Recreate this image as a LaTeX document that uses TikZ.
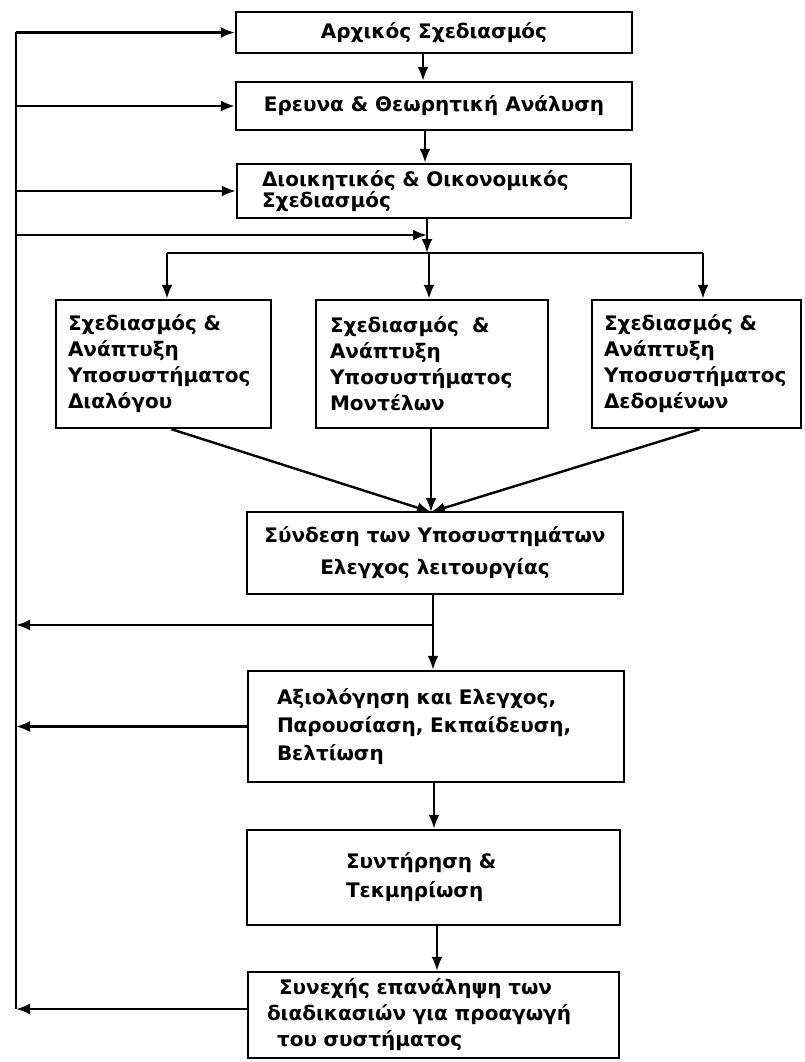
\documentclass[tikz,border=0pt]{standalone}
\usepackage{fontspec}
\setmainfont{DejaVu Sans}
\usetikzlibrary{arrows.meta}
\begin{document}
\begin{tikzpicture}[x=1pt,y=-1pt,
  box/.style={draw, line width=2.4pt, inner ysep=0pt, font=\fontsize{20}{24}\selectfont\bfseries},
  arr/.style={line width=2.4pt, -{Latex[length=14pt,width=11pt]}},
  ln/.style={line width=2.4pt}]
\useasboundingbox (0,0) rectangle (804,1062);
% top boxes
\node[box, minimum width=396pt, minimum height=41pt, align=center] (b1) at (434,32.5) {Αρχικός Σχεδιασμός};
\node[box, minimum width=396pt, minimum height=48pt, align=center] (b2) at (434,106) {Ερευνα \& Θεωρητική Ανάλυση};
\node[box, minimum height=54pt, inner xsep=25pt, text width=344pt, align=left,
      font=\fontsize{20}{20}\selectfont\bfseries] (b3) at (434,191) {Διοικητικός \& Οικονομικός\\Σχεδιασμός};
% sub boxes
\node[box, minimum height=128pt, inner xsep=12pt, text width=191pt, align=left,
      font=\fontsize{20}{26}\selectfont\bfseries] (s1) at (163.5,364) {Σχεδιασμός \&\\Ανάπτυξη\\Υποσυστήματος\\Διαλόγου};
\node[box, minimum height=128pt, inner xsep=14pt, text width=204pt, align=left,
      font=\fontsize{20}{26}\selectfont\bfseries] (s2) at (432,364) {Σχεδιασμός \ \&\\Ανάπτυξη\\Υποσυστήματος\\Μοντέλων};
\node[box, minimum height=128pt, inner xsep=12pt, text width=185pt, align=left,
      font=\fontsize{20}{26}\selectfont\bfseries] (s3) at (696.5,364) {Σχεδιασμός \&\\Ανάπτυξη\\Υποσυστήματος\\Δεδομένων};
% lower boxes
\node[box, minimum width=376pt, minimum height=82pt, align=center,
      font=\fontsize{20}{32}\selectfont\bfseries] (c) at (435,553) {Σύνδεση των Υποσυστημάτων\\Ελεγχος λειτουργίας};
\node[box, minimum height=111pt, inner xsep=29pt, text width=318pt, align=left,
      font=\fontsize{20}{28}\selectfont\bfseries] (e) at (436,726.5) {Αξιολόγηση και Ελεγχος,\\Παρουσίαση, Εκπαίδευση,\\Βελτίωση};
\node[box, minimum height=95pt, inner xsep=99pt, text width=175pt, align=left,
      font=\fontsize{20}{29}\selectfont\bfseries] (m) at (433.5,877.5) {Συντήρηση \&\\Τεκμηρίωση};
\node[box, minimum height=86pt, inner xsep=19pt, text width=333pt, align=left,
      font=\fontsize{20}{26}\selectfont\bfseries] (r) at (433.5,1015) {\hspace*{12pt}Συνεχής επανάληψη των\\διαδικασιών για προαγωγή\\\hspace*{10pt}του συστήματος};
% coordinates
\coordinate (L) at (16,0);
\coordinate (J) at (427,253);
\coordinate (JL) at (167,253);
\coordinate (JR) at (703,253);
\coordinate (K) at (427,235);
\coordinate (M) at (431,512);
\coordinate (F) at (433,625);
\coordinate (Rw) at ([yshift=6pt]r.west);
% left feedback line
\draw[ln] (b1.west -| L) -- (Rw -| L);
\draw[arr] (b1.west -| L) -- (b1.west);
\draw[arr] (b2.west -| L) -- (b2.west);
\draw[arr] (b3.west -| L) -- (b3.west);
\draw[arr] (K -| L) -- (K);
% vertical chain top
\draw[arr] ([xshift=-11pt]b1.south) -- ([xshift=-11pt]b2.north);
\draw[arr] ([xshift=-9pt]b2.south) -- ([xshift=-9pt]b3.north);
\draw[arr] ([xshift=-7pt]b3.south) -- (J);
% distribution bar
\draw[ln] (JL) -- (JR);
\draw[arr] (JL) -- (JL |- s1.north);
\draw[arr] ([xshift=2pt]J) -- ([xshift=2pt]J |- s2.north);
\draw[arr] (JR) -- (JR |- s3.north);
% converge
\draw[arr] ([xshift=8pt]s1.south) -- (M);
\draw[arr] (M |- s2.south) -- (M);
\draw[arr] ([xshift=3pt]s3.south) -- (M);
% lower chain
\draw[arr] ([xshift=-2pt]c.south) -- ([xshift=-3pt]e.north);
\draw[arr] (F) -- (F -| L);
\draw[arr] ([xshift=-2pt]e.south) -- ([xshift=0.5pt]m.south |- m.north);
\draw[arr] ([xshift=3.5pt]m.south) -- ([xshift=3.5pt]r.north);
\draw[arr] (e.west) -- (e.west -| L);
\draw[arr] (Rw) -- (Rw -| L);
\end{tikzpicture}
\end{document}
